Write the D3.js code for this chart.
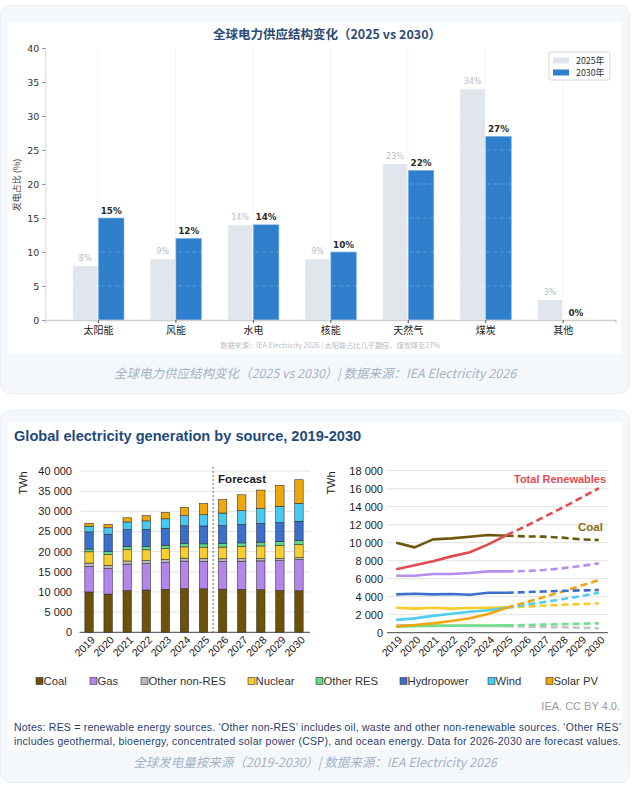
<!DOCTYPE html>
<html><head><meta charset="utf-8">
<script src="https://cdn.jsdelivr.net/npm/d3@7"></script>
<style>
html,body{margin:0;padding:0;background:#fff;}
svg{display:block;}
</style></head>
<body>
<svg id="c" width="633" height="785"></svg>
<script>
// ---------- Data: top chart ----------
const shareCats = ["太阳能","风能","水电","核能","天然气","煤炭","其他"];
const share2025 = [8,9,14,9,23,34,3];
const share2030 = [15,12,14,10,22,27,0];
const shareTicks = [0,5,10,15,20,25,30,35,40];

// ---------- Data: bottom charts ----------
const years = [2019,2020,2021,2022,2023,2024,2025,2026,2027,2028,2029,2030];
const coal        = [10000, 9480,10370,10480,10670,10850,10780,10700,10670,10560,10370,10300];
const gas         = [ 6330, 6330, 6520, 6520, 6630, 6810, 6810, 6850, 6960, 7150, 7400, 7700];
const otherNonRes = [  850,  800,  800,  780,  760,  740,  720,  680,  640,  600,  550,  500];
const nuclear     = [ 2780, 2670, 2780, 2670, 2740, 2780, 2810, 2900, 3000, 3100, 3180, 3260];
const otherRes    = [  680,  720,  760,  780,  790,  800,  810,  850,  900,  950, 1000, 1040];
const hydro       = [ 4260, 4330, 4260, 4300, 4220, 4440, 4440, 4500, 4580, 4640, 4700, 4740];
const wind        = [ 1420, 1590, 1870, 2100, 2330, 2500, 2780, 3100, 3400, 3720, 4050, 4440];
const solar       = [  700,  850, 1040, 1300, 1600, 2070, 2780, 3350, 3950, 4550, 5200, 5850];
const totalRenewables = [7060,7490,7930,8480,8940,9810,10850,11800,12830,13860,14950,16050];
const stackTicks = [0,5000,10000,15000,20000,25000,30000,35000,40000];
const lineTicks = [0,2000,4000,6000,8000,10000,12000,14000,16000,18000];
const sourceNames = ["Coal","Gas","Other non-RES","Nuclear","Other RES","Hydropower","Wind","Solar PV"];
const sourceColors = ["#6b5208","#b286ea","#b9b9b9","#f9cd2b","#62d987","#3a6fcb","#46caf3","#f0a70c"];
const lastActual = 2025;

const svg = d3.select("#c");
const CJK = "'Noto Sans CJK SC','DejaVu Sans',sans-serif";
const DV = "'DejaVu Sans','Noto Sans CJK SC',sans-serif";
const AR = "'Liberation Sans',Arial,sans-serif";

// ---------- Cards ----------
svg.append("rect").attr("x",0.5).attr("y",5.5).attr("width",629).attr("height",388).attr("rx",10)
  .attr("fill","#f5f8fb").attr("stroke","#e7edf3");
svg.append("rect").attr("x",8).attr("y",22).attr("width",613).attr("height",332).attr("fill","#ffffff");
svg.append("rect").attr("x",0.5).attr("y",410.5).attr("width",629).attr("height",372).attr("rx",10)
  .attr("fill","#f5f8fb").attr("stroke","#e7edf3");
svg.append("rect").attr("x",8).attr("y",422).attr("width",614).attr("height",328).attr("fill","#ffffff");

// ---------- Top chart ----------
const topG = svg.append("g");
const xT = d3.scalePoint().domain(shareCats).range([45.3,615.4]).padding(0.68);
const yT = d3.scaleLinear().domain([0,40]).range([320,48]);
const bw = 25.5;

topG.append("text").attr("x",327).attr("y",38.5).attr("text-anchor","middle")
  .attr("font-family",CJK).attr("font-weight","bold").attr("font-size",12.5).attr("fill","#2c4b74")
  .text("全球电力供应结构变化（2025 vs 2030）");

// vertical grid
topG.append("g").selectAll("line").data(shareCats).join("line")
  .attr("x1",d=>xT(d)).attr("x2",d=>xT(d)).attr("y1",yT(40)).attr("y2",yT(0))
  .attr("stroke","#eef0f3").attr("stroke-width",0.8);

// bars
topG.append("g").selectAll("rect").data(shareCats).join("rect")
  .attr("x",d=>xT(d)-bw).attr("width",bw)
  .attr("y",(d,i)=>yT(share2025[i])).attr("height",(d,i)=>yT(0)-yT(share2025[i]))
  .attr("fill","#e1e6ed").attr("stroke","#ffffff").attr("stroke-width",0.8);
topG.append("g").selectAll("rect").data(shareCats).join("rect")
  .attr("x",d=>xT(d)+0.5).attr("width",bw)
  .attr("y",(d,i)=>yT(share2030[i])).attr("height",(d,i)=>yT(0)-yT(share2030[i]))
  .attr("fill","#2f7fcd").attr("stroke","#7fb3e6").attr("stroke-width",0.6);

// horizontal dashed grid over bars
topG.append("g").selectAll("line").data(shareTicks.slice(1)).join("line")
  .attr("x1",45.3).attr("x2",615.4).attr("y1",d=>yT(d)).attr("y2",d=>yT(d))
  .attr("stroke","#ffffff").attr("stroke-opacity",0.28).attr("stroke-dasharray","4,3").attr("stroke-width",0.8);

// value labels
topG.append("g").selectAll("text").data(shareCats).join("text")
  .attr("x",d=>xT(d)-bw/2).attr("y",(d,i)=>yT(share2025[i])-4.5).attr("text-anchor","middle")
  .attr("font-family",DV).attr("font-size",8).attr("fill","#b6bdc6")
  .text((d,i)=>share2025[i]+"%");
topG.append("g").selectAll("text").data(shareCats).join("text")
  .attr("x",d=>xT(d)+bw/2+0.5).attr("y",(d,i)=>yT(share2030[i])-4.5).attr("text-anchor","middle")
  .attr("font-family",DV).attr("font-weight","bold").attr("font-size",8.8).attr("fill","#2b2b2b")
  .text((d,i)=>share2030[i]+"%");

// axes
const yAxT = topG.append("g").attr("transform","translate(45.3,0)")
  .call(d3.axisLeft(yT).tickValues(shareTicks).tickSize(3).tickPadding(3));
yAxT.select(".domain").attr("stroke","#d9d9d9");
yAxT.selectAll(".tick line").attr("stroke","#888");
yAxT.selectAll("text").attr("font-family",DV).attr("font-size",9.5).attr("fill","#333");
const xAxT = topG.append("g").attr("transform","translate(0,320)")
  .call(d3.axisBottom(xT).tickSize(3).tickPadding(4));
xAxT.select(".domain").attr("stroke","#cfcfcf").attr("stroke-width",1.3);
xAxT.selectAll(".tick line").attr("stroke","#555");
xAxT.selectAll("text").attr("font-family",CJK).attr("font-size",10).attr("fill","#222");

topG.append("text").attr("transform","translate(20,185) rotate(-90)").attr("text-anchor","middle")
  .attr("font-family",CJK).attr("font-size",9).attr("fill","#444").text("发电占比 (%)");

// legend
const lg = topG.append("g");
lg.append("rect").attr("x",549).attr("y",52).attr("width",61).attr("height",28).attr("rx",2)
  .attr("fill","#fff").attr("stroke","#d4d4d4");
[["2025年","#e1e6ed"],["2030年","#2f7fcd"]].forEach((d,i)=>{
  lg.append("rect").attr("x",553).attr("y",57.5+i*12).attr("width",16).attr("height",6).attr("fill",d[1]);
  lg.append("text").attr("x",576).attr("y",64+i*12).attr("font-family",CJK).attr("font-size",8.8)
    .attr("fill","#333").text(d[0]);
});

topG.append("text").attr("x",330).attr("y",347.5).attr("text-anchor","middle")
  .attr("font-family",CJK).attr("font-size",7.2).attr("fill","#b9bdc3")
  .text("数据来源：IEA Electricity 2026 | 太阳能占比几乎翻倍，煤炭降至27%");

svg.append("text").attr("x",315).attr("y",377.5).attr("text-anchor","middle")
  .attr("font-family",CJK).attr("font-style","italic").attr("font-size",12.5).attr("fill","#a3b3c7")
  .text("全球电力供应结构变化（2025 vs 2030）| 数据来源：IEA Electricity 2026");

// ---------- Bottom title ----------
svg.append("text").attr("x",14).attr("y",441).attr("font-family",AR).attr("font-weight","bold")
  .attr("font-size",14.6).attr("fill","#1f4a7c").text("Global electricity generation by source, 2019-2030");

const fmt = v => d3.format(",")(v).replace(/,/g," ");
const seriesArrays = [coal,gas,otherNonRes,nuclear,otherRes,hydro,wind,solar];
const keys = sourceNames;
const rows = years.map((y,i)=>{ const r={year:y}; keys.forEach((k,j)=>r[k]=seriesArrays[j][i]); return r; });

// ---------- Left stacked chart ----------
const L = svg.append("g");
const xL = d3.scalePoint().domain(years).range([79.5,308.5]).padding(0.5);
const yL = d3.scaleLinear().domain([0,40000]).range([632.3,471]);
L.append("g").selectAll("line").data(stackTicks.slice(1)).join("line")
  .attr("x1",79.5).attr("x2",310).attr("y1",d=>yL(d)).attr("y2",d=>yL(d))
  .attr("stroke","#e3e3e3").attr("stroke-width",1);
L.append("g").selectAll("text").data(stackTicks).join("text")
  .attr("x",72).attr("y",d=>yL(d)+4).attr("text-anchor","end")
  .attr("font-family",AR).attr("font-size",11).attr("fill","#222").text(fmt);
const stacked = d3.stack().keys(keys)(rows);
L.append("g").selectAll("g").data(stacked).join("g").attr("fill",(d,i)=>sourceColors[i])
  .selectAll("rect").data(d=>d).join("rect")
  .attr("x",d=>xL(d.data.year)-4.2).attr("width",8.4)
  .attr("y",d=>yL(d[1])).attr("height",d=>yL(d[0])-yL(d[1]))
  .attr("stroke","#2a2a2a").attr("stroke-width",0.55);
L.append("line").attr("x1",79.5).attr("x2",310).attr("y1",632.3).attr("y2",632.3)
  .attr("stroke","#444").attr("stroke-width",1);
const fx = (xL(lastActual)+xL(lastActual+1))/2;
L.append("line").attr("x1",fx).attr("x2",fx).attr("y1",467).attr("y2",632.3)
  .attr("stroke","#555").attr("stroke-width",0.9).attr("stroke-dasharray","2,2");
L.append("text").attr("x",fx+5).attr("y",483).attr("font-family",AR).attr("font-weight","bold")
  .attr("font-size",11.5).attr("fill","#1a1a1a").text("Forecast");
L.append("text").attr("transform","translate(27,483) rotate(-90)").attr("text-anchor","middle")
  .attr("font-family",AR).attr("font-size",11).attr("fill","#222").text("TWh");
L.append("g").selectAll("text").data(years).join("text")
  .attr("transform",d=>`translate(${xL(d)+4},${638}) rotate(-45)`).attr("text-anchor","end")
  .attr("dy","0.35em").attr("font-family",AR).attr("font-size",10.6).attr("fill","#222").text(d=>d);

// ---------- Right line chart ----------
const R = svg.append("g");
const xR = d3.scalePoint().domain(years).range([387,608]).padding(0.5);
const yR = d3.scaleLinear().domain([0,18000]).range([632.7,470.7]);
R.append("g").selectAll("line").data(lineTicks.slice(1)).join("line")
  .attr("x1",387).attr("x2",608).attr("y1",d=>yR(d)).attr("y2",d=>yR(d))
  .attr("stroke","#e3e3e3").attr("stroke-width",1);
R.append("g").selectAll("text").data(lineTicks).join("text")
  .attr("x",383).attr("y",d=>yR(d)+4).attr("text-anchor","end")
  .attr("font-family",AR).attr("font-size",11).attr("fill","#222").text(fmt);
R.append("line").attr("x1",387).attr("x2",608).attr("y1",632.7).attr("y2",632.7)
  .attr("stroke","#444").attr("stroke-width",1);
R.append("text").attr("transform","translate(335,483) rotate(-90)").attr("text-anchor","middle")
  .attr("font-family",AR).attr("font-size",11).attr("fill","#222").text("TWh");
R.append("g").selectAll("text").data(years).join("text")
  .attr("transform",d=>`translate(${xR(d)+4},${638}) rotate(-45)`).attr("text-anchor","end")
  .attr("dy","0.35em").attr("font-family",AR).attr("font-size",10.6).attr("fill","#222").text(d=>d);

const lineSeries = [
  {vals:otherNonRes, color:"#c4c4c4"},
  {vals:otherRes, color:"#6fdf8c"},
  {vals:nuclear, color:"#f7cb2c"},
  {vals:wind, color:"#4fcdf2"},
  {vals:solar, color:"#f0a60f"},
  {vals:hydro, color:"#3a6fcb"},
  {vals:gas, color:"#b68cee"},
  {vals:coal, color:"#6e560b"},
  {vals:totalRenewables, color:"#e24b4f"}
];
const lineGen = d3.line().x(d=>xR(d.year)).y(d=>yR(d.v));
lineSeries.forEach(s=>{
  const pts = years.map((y,i)=>({year:y,v:s.vals[i]}));
  R.append("path").attr("d",lineGen(pts.filter(p=>p.year<=lastActual)))
    .attr("fill","none").attr("stroke",s.color).attr("stroke-width",2.6).attr("stroke-linejoin","round");
  R.append("path").attr("d",lineGen(pts.filter(p=>p.year>=lastActual)))
    .attr("fill","none").attr("stroke",s.color).attr("stroke-width",2.6).attr("stroke-dasharray","7,4");
});
R.append("text").attr("x",514).attr("y",482.5).attr("font-family",AR).attr("font-weight","bold")
  .attr("font-size",11).attr("fill","#e24b4f").text("Total Renewables");
R.append("text").attr("x",578).attr("y",531).attr("font-family",AR).attr("font-weight","bold")
  .attr("font-size",11.5).attr("fill","#8a6c0c").text("Coal");

// ---------- Legend ----------
const legX = [36,90,141,248,316,400,488,546];
const LG = svg.append("g");
sourceNames.forEach((n,i)=>{
  LG.append("rect").attr("x",legX[i]).attr("y",677.5).attr("width",7).attr("height",7)
    .attr("fill",sourceColors[i]).attr("stroke","#333").attr("stroke-width",0.6);
  LG.append("text").attr("x",legX[i]+7.5).attr("y",685).attr("font-family",AR).attr("font-size",11.3)
    .attr("fill","#333").text(n);
});
svg.append("text").attr("x",620).attr("y",710).attr("text-anchor","end").attr("font-family",AR)
  .attr("font-size",11).attr("fill","#9a9a9a").text("IEA. CC BY 4.0.");
svg.append("text").attr("x",14).attr("y",731).attr("font-family",AR).attr("font-size",10.5)
  .attr("fill","#1f3d72").attr("textLength",607).attr("lengthAdjust","spacing")
  .text("Notes: RES = renewable energy sources. ‘Other non-RES’ includes oil, waste and other non-renewable sources. ‘Other RES’");
svg.append("text").attr("x",14).attr("y",744.5).attr("font-family",AR).attr("font-size",10.5)
  .attr("fill","#1f3d72").attr("textLength",607).attr("lengthAdjust","spacing")
  .text("includes geothermal, bioenergy, concentrated solar power (CSP), and ocean energy. Data for 2026-2030 are forecast values.");

svg.append("text").attr("x",315).attr("y",767).attr("text-anchor","middle")
  .attr("font-family",CJK).attr("font-style","italic").attr("font-size",12.5).attr("fill","#a3b3c7")
  .text("全球发电量按来源（2019-2030）| 数据来源：IEA Electricity 2026");
</script>
</body></html>
